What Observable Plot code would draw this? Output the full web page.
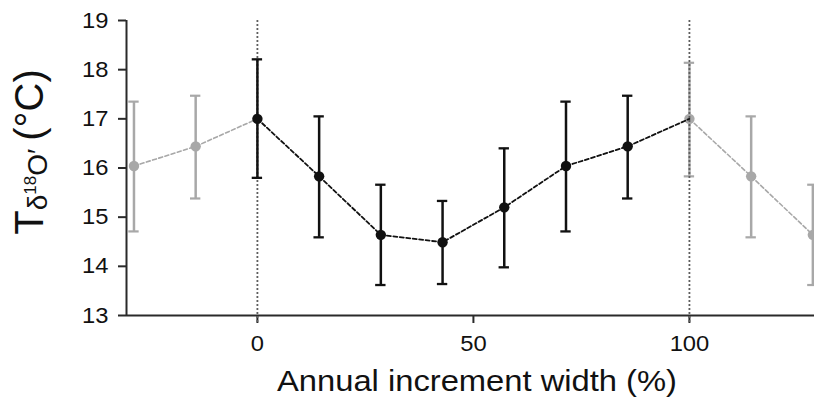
<!DOCTYPE html>
<html>
<head>
<meta charset="utf-8">
<script src="https://cdn.jsdelivr.net/npm/d3@7"></script>
<script src="https://cdn.jsdelivr.net/npm/@observablehq/plot@0.6"></script>
<style>
  html, body { margin: 0; padding: 0; background: #fff; }
  #chart svg { display: block; font-family: "Liberation Sans", Arial, sans-serif; }
</style>
</head>
<body>
<div id="chart"></div>
<script>
// Previous-cycle repeat (grey, left)
const prevX    = [-28.57, -14.29];
const prevMean = [16.04, 16.44];
const prevLo   = [14.71, 15.38];
const prevHi   = [17.35, 17.47];

// Main annual cycle (black)
const mainX    = [0, 14.29, 28.57, 42.86, 57.14, 71.43, 85.71];
const mainMean = [17.00, 15.83, 14.64, 14.49, 15.20, 16.04, 16.44];
const mainLo   = [15.80, 14.59, 13.62, 13.64, 13.98, 14.71, 15.38];
const mainHi   = [18.21, 17.05, 15.66, 15.33, 16.40, 17.35, 17.47];

// Next-cycle repeat (grey, right)
const nextX    = [100, 114.29, 128.57];
const nextMean = [17.00, 15.83, 14.64];
const nextLo   = [15.83, 14.59, 13.62];
const nextHi   = [18.14, 17.05, 15.66];

const xTicks = [0, 50, 100];
const yTicks = [13, 14, 15, 16, 17, 18, 19];
const boundaries = [0, 100];
const xLabel = "Annual increment width (%)";

const rows = (xs, m, lo, hi) => xs.map((x, i) => ({x, mean: m[i], lo: lo[i], hi: hi[i]}));
const prev = rows(prevX, prevMean, prevLo, prevHi);
const main = rows(mainX, mainMean, mainLo, mainHi);
const next = rows(nextX, nextMean, nextLo, nextHi);
const grey = [...prev, ...next];

const blackLine = [...main, next[0]];
const greyLeft = [...prev, main[0]];
const greyRight = next;

const capRows = data => data.flatMap(d => [{x: d.x, v: d.lo}, {x: d.x, v: d.hi}]);

const GREY = "#a8a8a8";
const BLACK = "#111";
const AXIS = "#2a2a2a";
const xMin = -30.3, xMax = 128.95;
const CAP = 1.2; // half cap width in x units

const plot = Plot.plot({
  width: 814,
  height: 412,
  marginLeft: 126,
  marginRight: 0,
  marginTop: 20,
  marginBottom: 97,
  style: {fontFamily: "Liberation Sans, Arial, sans-serif", color: "#111", background: "#fff", overflow: "hidden"},
  x: {domain: [xMin, xMax], label: null},
  y: {domain: [13, 19], label: null},
  marks: [
    Plot.axisX({ticks: xTicks, tickFormat: d => d, tickSize: 8, tickPadding: 12, fontSize: 22, stroke: AXIS, strokeWidth: 2, fill: "#111", label: null}),
    Plot.axisY({ticks: yTicks, tickFormat: d => d, tickSize: 8, tickPadding: 10, fontSize: 22, stroke: AXIS, strokeWidth: 2, fill: "#111", label: null}),
    // axis lines
    Plot.ruleY([13], {x1: xMin, x2: xMax, stroke: AXIS, strokeWidth: 2}),
    Plot.ruleX([xMin], {y1: 13, y2: 19, stroke: AXIS, strokeWidth: 2}),
    // grey repeats
    Plot.line(greyLeft, {x: "x", y: "mean", stroke: GREY, strokeWidth: 1.6, strokeDasharray: "4,2.5"}),
    Plot.line(greyRight, {x: "x", y: "mean", stroke: GREY, strokeWidth: 1.6, strokeDasharray: "4,2.5"}),
    Plot.ruleX(grey, {x: "x", y1: "lo", y2: "hi", stroke: GREY, strokeWidth: 2.5}),
    Plot.ruleY(capRows(grey), {y: "v", x1: d => d.x - CAP, x2: d => d.x + CAP, stroke: GREY, strokeWidth: 2.2}),
    Plot.dot(grey, {x: "x", y: "mean", r: 5.2, fill: GREY, stroke: "none"}),
    // boundaries
    Plot.ruleX(boundaries, {y1: 19, y2: 13, insetBottom: -8, stroke: "#5e5e5e", strokeWidth: 1.8, strokeDasharray: "2,2"}),
    // main cycle
    Plot.line(blackLine, {x: "x", y: "mean", stroke: BLACK, strokeWidth: 1.8, strokeDasharray: "4,2.5"}),
    Plot.ruleX(main, {x: "x", y1: "lo", y2: "hi", stroke: BLACK, strokeWidth: 2.5}),
    Plot.ruleY(capRows(main), {y: "v", x1: d => d.x - CAP, x2: d => d.x + CAP, stroke: BLACK, strokeWidth: 2.3}),
    Plot.dot(main, {x: "x", y: "mean", r: 5.2, fill: BLACK, stroke: "none"})
  ]
});

document.getElementById("chart").appendChild(plot);
const svg = d3.select(plot);

// slightly widen tick labels, as in the reference typesetting
svg.selectAll('g[aria-label="x-axis tick label"] text, g[aria-label="y-axis tick label"] text')
  .attr("transform", function() { return (this.getAttribute("transform") || "") + " scale(1.08,1)"; });

// x-axis title
svg.append("text")
  .attr("x", 477).attr("y", 391)
  .attr("text-anchor", "middle")
  .attr("font-size", 30)
  .attr("fill", "#111")
  .attr("textLength", 400).attr("lengthAdjust", "spacingAndGlyphs")
  .text(xLabel);

// y-axis title: T with subscript δ18O′ and (°C)
const yt = svg.append("text")
  .attr("transform", "translate(43,152) rotate(-90)")
  .attr("text-anchor", "middle")
  .attr("font-size", 40)
  .attr("fill", "#111");
yt.append("tspan").text("T");
yt.append("tspan").attr("font-size", 28).attr("dy", 4).text("δ");
yt.append("tspan").attr("font-size", 17).attr("dy", -11).text("18");
yt.append("tspan").attr("font-size", 28).attr("dy", 11).text("O′");
yt.append("tspan").attr("dy", -4).text("\u2009(°C)");
</script>
</body>
</html>
